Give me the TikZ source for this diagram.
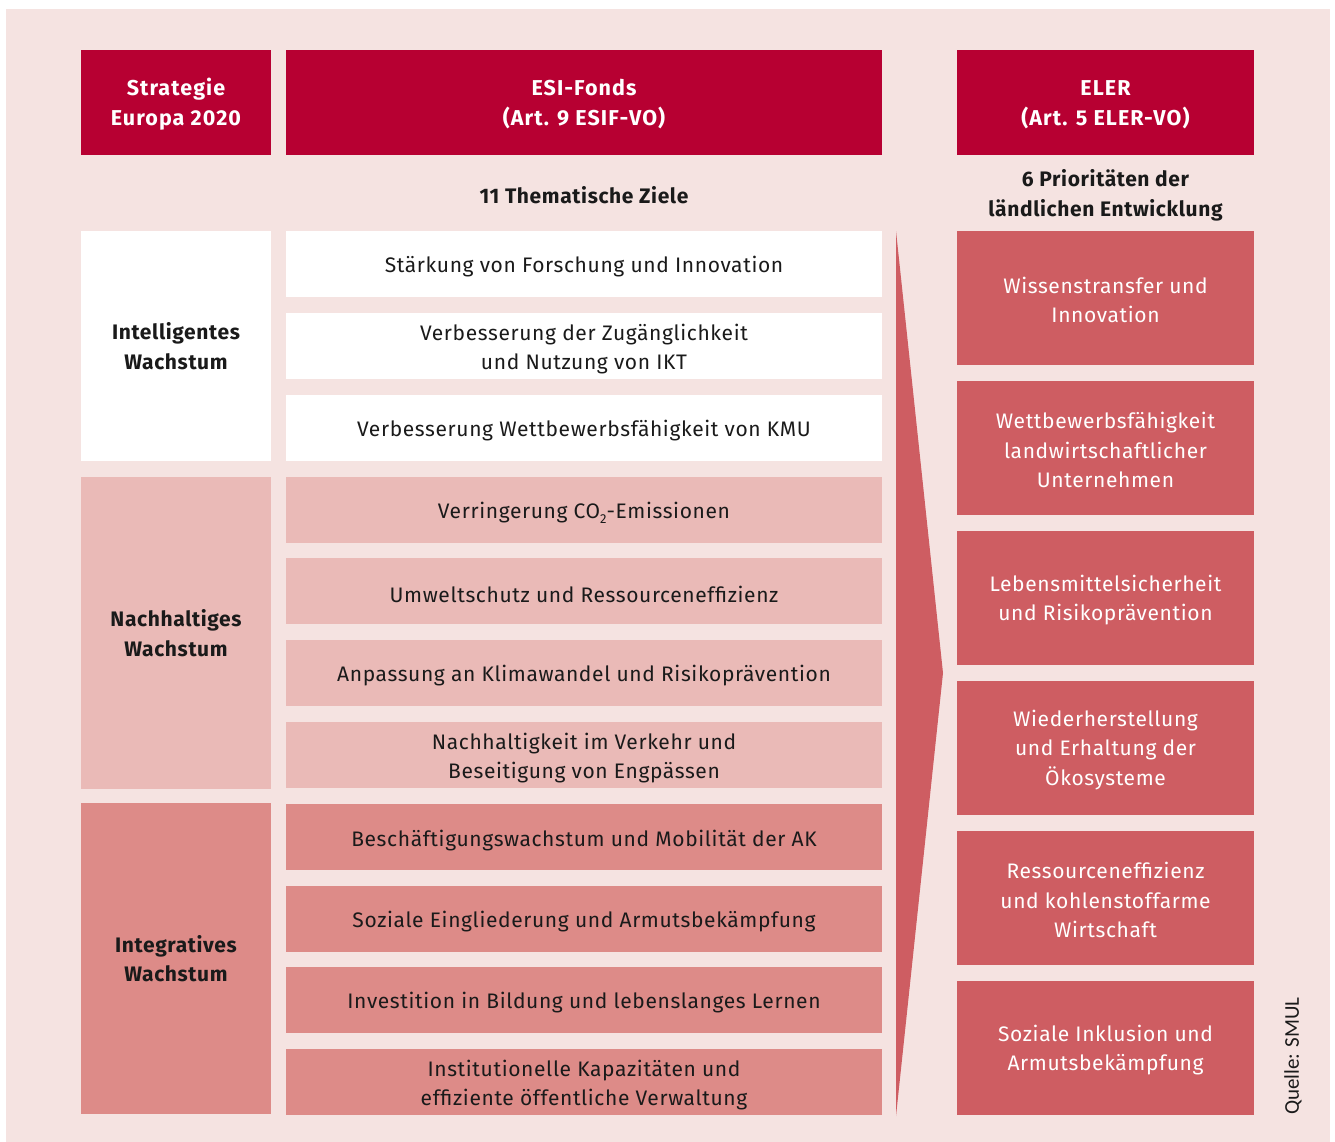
\documentclass[tikz,border=0pt]{standalone}
\usepackage{fontspec}
\setmainfont{Fira Sans}[LetterSpace=3]
\newfontfamily\srcfont{Carlito}

\definecolor{bgpink}{HTML}{F5E3E1}
\definecolor{headred}{HTML}{B70032}
\definecolor{lightpink}{HTML}{EABAB7}
\definecolor{midpink}{HTML}{DD8B88}
\definecolor{elerred}{HTML}{CE5D62}
\definecolor{txt}{HTML}{1A1A1A}

\newcommand{\bodyfont}{\fontsize{21}{29.5}\selectfont}
\newcommand{\headfont}{\fontsize{21.5}{30}\selectfont\addfontfeature{LetterSpace=5}\bfseries}
\newcommand{\subtwo}{\raisebox{-0.45ex}{\fontsize{13}{13}\selectfont 2}}

\begin{document}
\begin{tikzpicture}[x=1pt,y=-1pt,
  panel/.style={inner sep=0pt, outer sep=0pt},
  label text/.style={inner sep=0pt, align=center, text=txt, font=\bodyfont},
  head text/.style={label text, text=white, font=\headfont},
  group text/.style={label text, font=\bodyfont\bfseries},
  prio text/.style={label text, text=white},
  header/.style={panel, fill=headred, minimum height=105},
  leftcol/.style={panel, minimum width=190},
  goal/.style={panel, minimum width=596, minimum height=66},
  prio/.style={panel, fill=elerred, minimum width=297, minimum height=134}
]
% canvas
\fill[white] (0,0) rectangle (1335,1142);
\fill[bgpink] (6,9) rectangle (1330,1142);
\useasboundingbox (0,0) rectangle (1335,1142);

% column headers
\node[header, minimum width=190] (hstrat) at (176,102.5) {};
\node[header, minimum width=596] (hesi) at (584,102.5) {};
\node[header, minimum width=297] (heler) at (1105.5,102.5) {};
\node[head text] (hstrat-t) at ([yshift=-2pt]hstrat.center) {Strategie\\Europa 2020};
\node[head text] (hesi-t) at ([yshift=-2pt]hesi.center) {ESI-Fonds\\(Art. 9 ESIF-VO)};
\node[head text] (heler-t) at ([yshift=-2pt]heler.center) {ELER\\(Art. 5 ELER-VO)};

\node[group text] (cziele) at (584,195) {11 Thematische Ziele};
\node[group text] (cprio) at (1105.5,195.5) {6 Prioritäten der\\ländlichen Entwicklung};

% Europa 2020 growth groups
\node[leftcol, fill=white, minimum height=230] (gsmart) at (176,346) {};
\node[leftcol, fill=lightpink, minimum height=312] (gsust) at (176,633) {};
\node[leftcol, fill=midpink, minimum height=311] (gincl) at (176,958.5) {};
\node[group text] (gsmart-t) at (gsmart.center) {Intelligentes\\Wachstum};
\node[group text] (gsust-t) at (gsust.center) {Nachhaltiges\\Wachstum};
\node[group text] (gincl-t) at (gincl.center) {Integratives\\Wachstum};

% thematic objectives
\node[goal, fill=white] (z1) at (584,264) {};
\node[goal, fill=white] (z2) at (584,346) {};
\node[goal, fill=white] (z3) at (584,428) {};
\node[goal, fill=lightpink] (z4) at (584,510) {};
\node[goal, fill=lightpink] (z5) at (584,591) {};
\node[goal, fill=lightpink] (z6) at (584,673) {};
\node[goal, fill=lightpink] (z7) at (584,755) {};
\node[goal, fill=midpink] (z8) at (584,837) {};
\node[goal, fill=midpink] (z9) at (584,919) {};
\node[goal, fill=midpink] (z10) at (584,1000) {};
\node[goal, fill=midpink] (z11) at (584,1082) {};
\node[label text] (z1-t) at ([yshift=-3pt]z1.center) {Stärkung von Forschung und Innovation};
\node[label text] (z2-t) at ([yshift=-3pt]z2.center) {Verbesserung der Zugänglichkeit\\und Nutzung von IKT};
\node[label text] (z3-t) at ([yshift=-3pt]z3.center) {Verbesserung Wettbewerbsfähigkeit von KMU};
\node[label text] (z4-t) at ([yshift=-3pt]z4.center) {Verringerung CO\subtwo-Emissionen};
\node[label text] (z5-t) at ([yshift=-3pt]z5.center) {Umweltschutz und Ressourceneffizienz};
\node[label text] (z6-t) at ([yshift=-3pt]z6.center) {Anpassung an Klimawandel und Risikoprävention};
\node[label text] (z7-t) at ([yshift=-3pt]z7.center) {Nachhaltigkeit im Verkehr und\\Beseitigung von Engpässen};
\node[label text] (z8-t) at ([yshift=-3.5pt]z8.center) {Beschäftigungswachstum und Mobilität der AK};
\node[label text] (z9-t) at ([yshift=-3pt]z9.center) {Soziale Eingliederung und Armutsbekämpfung};
\node[label text] (z10-t) at ([yshift=-3pt]z10.center) {Investition in Bildung und lebenslanges Lernen};
\node[label text] (z11-t) at ([yshift=-3pt]z11.center) {Institutionelle Kapazitäten und\\effiziente öffentliche Verwaltung};

% arrow wedge from objectives to priorities
\coordinate (wtop) at (896,231);
\coordinate (wtip) at (943,673);
\coordinate (wbot) at (896,1116);
\fill[elerred] (wtop) -- (wtip) -- (wbot) -- cycle;

% ELER priorities
\node[prio] (p1) at (1105.5,298) {};
\node[prio] (p2) at (1105.5,448) {};
\node[prio] (p3) at (1105.5,598) {};
\node[prio] (p4) at (1105.5,748) {};
\node[prio] (p5) at (1105.5,898) {};
\node[prio] (p6) at (1105.5,1048) {};
\node[prio text] (p1-t) at ([yshift=-2pt]p1.center) {Wissenstransfer und\\Innovation};
\node[prio text] (p2-t) at ([yshift=-2pt]p2.center) {Wettbewerbsfähigkeit\\landwirtschaftlicher\\Unternehmen};
\node[prio text] (p3-t) at ([yshift=-2pt]p3.center) {Lebensmittelsicherheit\\und Risikoprävention};
\node[prio text] (p4-t) at ([yshift=-2pt]p4.center) {Wiederherstellung\\und Erhaltung der\\Ökosysteme};
\node[prio text] (p5-t) at ([yshift=-2pt]p5.center) {Ressourceneffizienz\\und kohlenstoffarme\\Wirtschaft};
\node[prio text] (p6-t) at ([yshift=-2pt]p6.center) {Soziale Inklusion und\\Armutsbekämpfung};

% source note
\node[inner sep=0pt, text=txt, rotate=90, font=\srcfont\fontsize{21}{21}\selectfont] (src) at (1293,1056) {Quelle: SMUL};
\end{tikzpicture}
\end{document}
